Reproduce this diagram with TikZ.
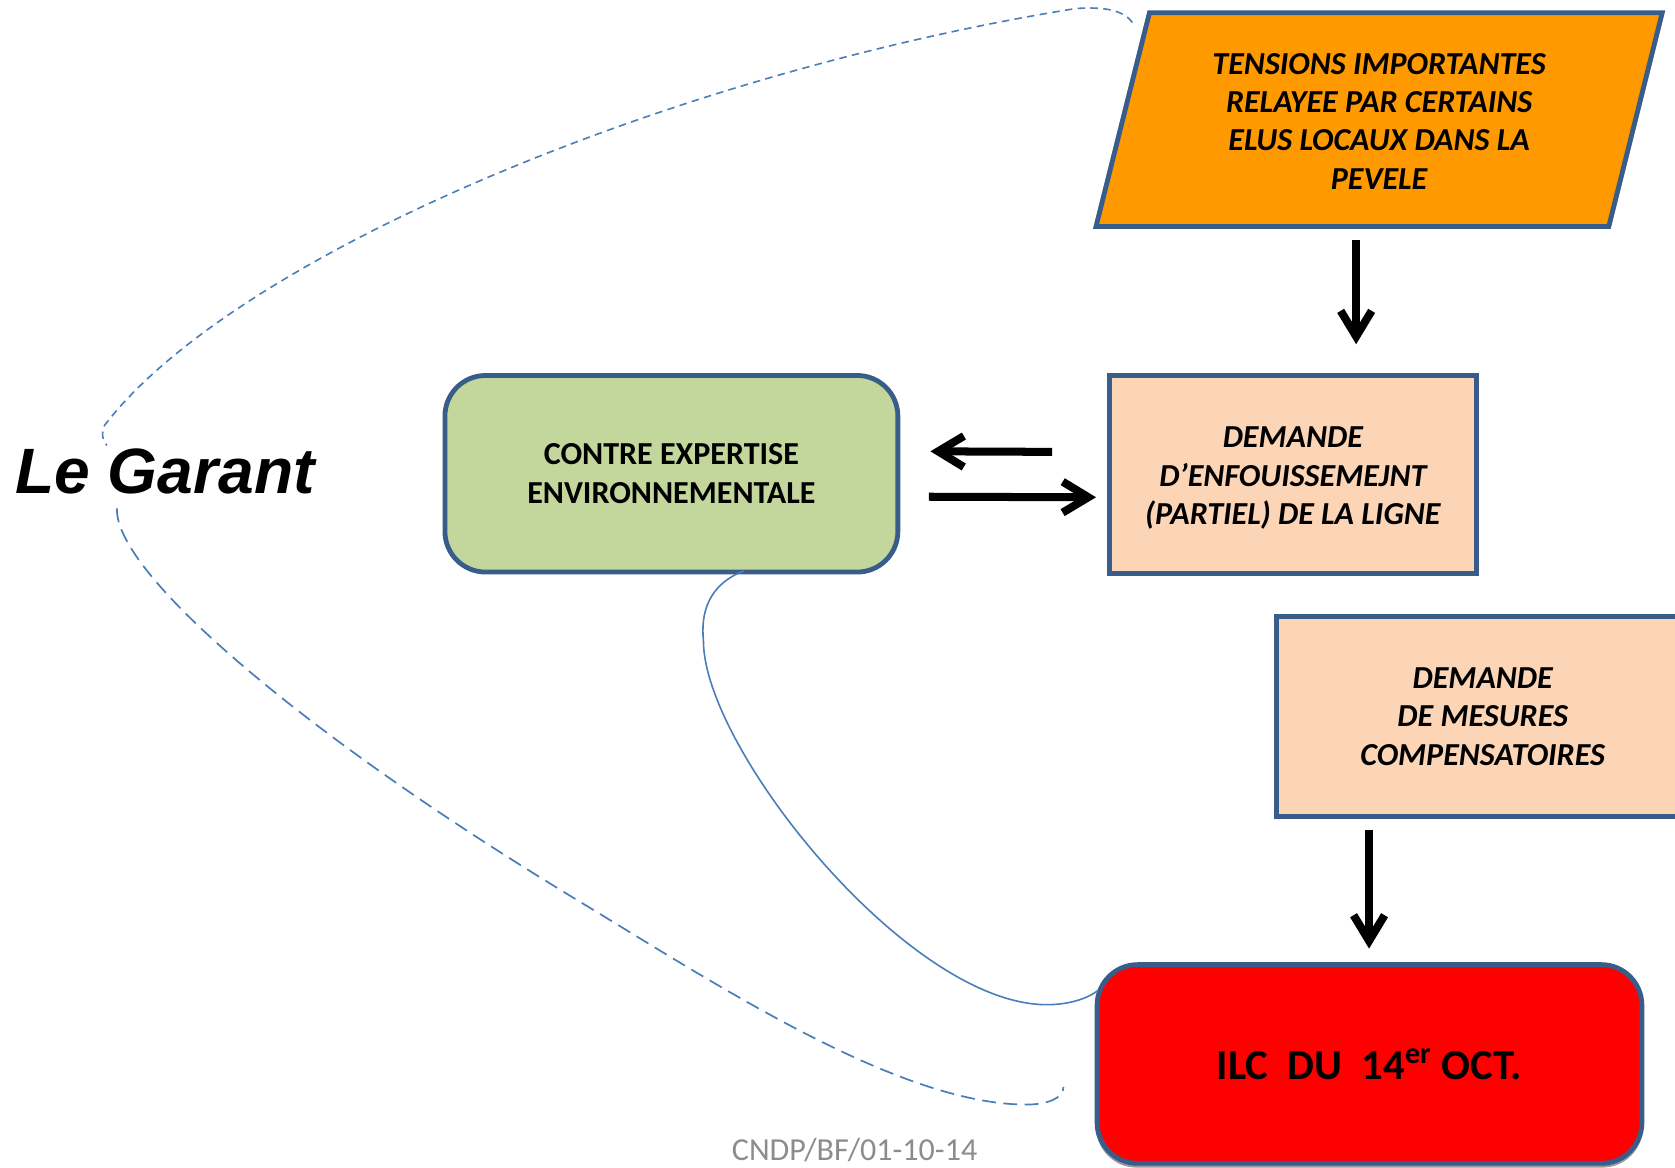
\documentclass[tikz,border=0pt]{standalone}
\usepackage{fontspec}
\setmainfont{Carlito}
\newfontfamily\arialfont{Liberation Sans}
\usetikzlibrary{arrows.meta,calc,backgrounds}
\definecolor{bordblue}{HTML}{385D8A}
\definecolor{orangefill}{HTML}{FF9900}
\definecolor{greenfill}{HTML}{C3D69B}
\definecolor{peachfill}{HTML}{FBD5B5}
\definecolor{redfill}{HTML}{FF0000}
\definecolor{linkblue}{HTML}{4A7EBB}
\definecolor{footgray}{HTML}{8C8C8C}
\begin{document}
\begin{tikzpicture}[x=0.5pt,y=-0.5pt,
  boxbase/.style={line width=2.25pt, draw=bordblue, align=center, inner sep=0pt, outer sep=0pt, text=black, font=\fontsize{15}{18}\selectfont\bfseries},
  ibox/.style={boxbase, font=\fontsize{15}{18}\selectfont\bfseries\itshape},
  bigarrow/.style={line width=3.75pt, -{Straight Barb[length=12pt,width=14.5pt]}},
  loopdash/.style={draw=linkblue, line width=0.8pt, dash pattern=on 6.5pt off 3.5pt},
  topdash/.style={draw=linkblue, line width=0.75pt, dash pattern=on 3.5pt off 2.5pt},
  link/.style={draw=linkblue, line width=0.75pt}]
\useasboundingbox (0,0) rectangle (1568,1092.5);

% boxes
\node[ibox, draw=none, minimum width=265pt, minimum height=100pt] (tens) at (1291,113.5)
  {TENSIONS IMPORTANTES\\RELAYEE PAR CERTAINS\\ELUS LOCAUX DANS LA\\PEVELE};
\node[boxbase, fill=greenfill, rounded corners=19pt, minimum width=212pt, minimum height=92pt] (green) at (628.5,443.5)
  {CONTRE EXPERTISE\\ENVIRONNEMENTALE};
\node[ibox, fill=peachfill, minimum width=171.75pt, minimum height=92.75pt] (enf) at (1210.25,444)
  {\rule{0pt}{13.5pt}DEMANDE\\D’ENFOUISSEMEJNT\\(PARTIEL) DE LA LIGNE};
\node[ibox, fill=peachfill, minimum width=193.3pt, minimum height=93.5pt] (comp) at (1388,670.5)
  {DEMANDE\\DE MESURES\\COMPENSATOIRES};
\node[boxbase, fill=redfill, rounded corners=19pt, minimum width=255pt, minimum height=93pt,
  font=\fontsize{20}{24}\selectfont\bfseries] (red) at (1282,996)
  {ILC~~DU~~14\textsuperscript{er}~OCT.};

\begin{scope}[on background layer]
  \path[fill=orangefill, draw=bordblue, line width=2.25pt, line join=miter]
    ($(tens.north west)+(50,-1.5)$) -- ($(tens.north east)+(0,-1.5)$) -- ($(tens.south east)+(-50,-1.5)$) -- ($(tens.south west)+(0,-1.5)$) -- cycle;
  \fill[black!40, rounded corners=19pt] ($(red.north west)+(-1,4)$) rectangle ($(red.south east)+(1,4)$);
\end{scope}

% labels
\node[anchor=base west, inner sep=0pt, font=\arialfont\fontsize{30}{36}\selectfont\bfseries\itshape] (garant) at (14,462) {Le Garant};
\node[anchor=base, inner sep=0pt, text=footgray, font=\fontsize{15}{18}\selectfont] (foot) at (800,1086) {CNDP/BF/01-10-14};

% arrows
\draw[bigarrow] ($(tens.south)+(-21.5,11.5)$) -- ($(enf.north)+(59.25,-29)$);
\draw[bigarrow] ($(enf.west)+(-53.5,-21)$) -- ($(green.east)+(30.5,-21)$);
\draw[bigarrow] ($(green.east)+(29,21.5)$) -- ($(enf.west)+(-12.5,21.5)$);
\draw[bigarrow] ($(comp.south)+(-106.4,13)$) -- ($(red.north)+(-0.4,-15)$);

% solid link green -> red
\coordinate (ls) at ($(green.south)+(67.5,-1)$);
\coordinate (le) at ($(red.west)+(1,-69)$);
\draw[link] (ls) .. controls (662,548) and (656,575) .. (658.5,600)
  .. controls (658.5,700) and (850,940.5) .. (980,940.5)
  .. controls (1000,940.5) and (1018,935) .. (le);

% dashed loop around "Le Garant"
\coordinate (dtop) at ($(tens.north west)+(34,7.5)$);
\coordinate (gtop) at (100,417);
\coordinate (gbot) at (109.5,476);
\coordinate (dbot) at ($(red.west)+(-31.5,21.5)$);
\draw[topdash] (dtop) .. controls (1052,10) and (1035,6) .. (1007,8)
  .. controls (627,69) and (219,240) .. (98,398)
  .. controls (95,404) and (95,410) .. (gtop);
\draw[loopdash] (gbot) .. controls (107,536) and (283,687) .. (541,843)
  .. controls (670,921) and (841,1034) .. (961,1034)
  .. controls (980,1034) and (996,1028) .. (dbot);
\end{tikzpicture}
\end{document}
